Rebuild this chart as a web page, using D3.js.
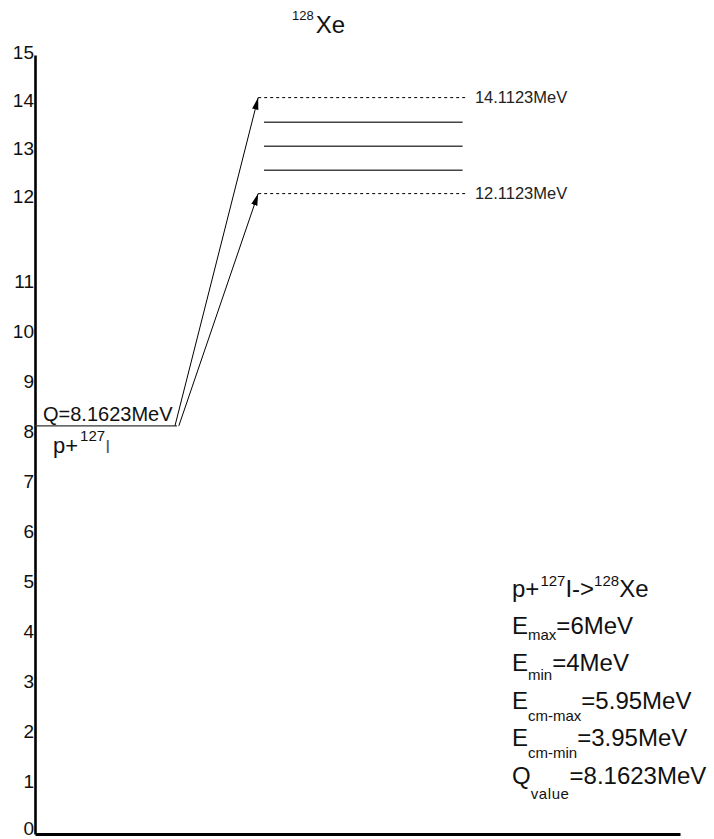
<!DOCTYPE html>
<html>
<head>
<meta charset="utf-8">
<script src="https://cdn.jsdelivr.net/npm/d3@7"></script>
<style>
  html, body { margin: 0; padding: 0; background: #fff; }
  svg { display: block; font-family: "Liberation Sans", Arial, sans-serif; }
</style>
</head>
<body>
<svg id="chart" width="714" height="839"></svg>
<script>
// Energy axis ticks (MeV)
const energyTicks = [0, 1, 2, 3, 4, 5, 6, 7, 8, 9, 10, 11, 12, 13, 14, 15];
// Entrance channel p + 127I
const qValue = 8.1623;
// Excitation window reached in 128Xe (labelled bounds)
const windowLevels = [14.1123, 12.1123];
const windowLabels = ["14.1123MeV", "12.1123MeV"];
// Intermediate states drawn inside the window
const stateLevels = [13.6, 13.1, 12.6];
// Reaction summary
const summaryLines = [
  { main: "E", sub: "max", rest: "=6MeV" },
  { main: "E", sub: "min", rest: "=4MeV" },
  { main: "E", sub: "cm-max", rest: "=5.95MeV" },
  { main: "E", sub: "cm-min", rest: "=3.95MeV" },
  { main: "Q", sub: "value", rest: "=8.1623MeV" }
];

const svg = d3.select("#chart");
const font = "'Liberation Sans', Arial, sans-serif";

// Energy scale with a break between 11 and 12 MeV
const y = d3.scaleLinear()
  .domain([0, 11, 12, 15])
  .range([834, 284, 199, 55]);

// Horizontal layout units of the level scheme
const x = d3.scaleLinear().domain([0, 100]).range([35, 680]);

// Y axis
const yAxis = d3.axisLeft(y)
  .tickValues(energyTicks)
  .tickFormat(d3.format("d"))
  .tickSize(0)
  .tickSizeOuter(0)
  .tickPadding(1);

const gy = svg.append("g")
  .attr("transform", `translate(${x(0)},0)`)
  .call(yAxis);
gy.select(".domain").attr("stroke", "#000").attr("stroke-width", 2.6);
gy.selectAll(".tick text")
  .attr("font-family", font)
  .attr("font-size", 19)
  .attr("dy", d => d === 0 ? "0.03em" : "0.2em")
  .attr("fill", "#111");

// X baseline
const xAxis = d3.axisBottom(x).tickValues([]).tickSizeOuter(0);
const gx = svg.append("g")
  .attr("transform", `translate(0,${y(0)})`)
  .call(xAxis);
gx.select(".domain").attr("stroke", "#000").attr("stroke-width", 3);

// Title
const title = svg.append("text")
  .attr("x", 292).attr("y", 33)
  .attr("font-family", font).attr("fill", "#111");
title.append("tspan").attr("font-size", 13).attr("dy", -13).text("128");
title.append("tspan").attr("font-size", 24).attr("dy", 13).attr("dx", 2).text("Xe");

// Arrowhead marker
const defs = svg.append("defs");
defs.append("marker")
  .attr("id", "arrowhead")
  .attr("markerUnits", "userSpaceOnUse")
  .attr("viewBox", "0 0 12 8")
  .attr("refX", 12).attr("refY", 4)
  .attr("markerWidth", 12).attr("markerHeight", 8)
  .attr("orient", "auto")
  .append("path")
  .attr("d", "M0,0.8 L12,4 L0,7.2 Z")
  .attr("fill", "#000");

// Entrance channel level
svg.append("line")
  .attr("x1", x(0)).attr("x2", x(22))
  .attr("y1", y(qValue)).attr("y2", y(qValue))
  .attr("stroke", "#333").attr("stroke-width", 1.4);

svg.append("text")
  .attr("x", 43).attr("y", y(qValue) - 5)
  .attr("font-family", font).attr("font-size", 20).attr("fill", "#111")
  .text(`Q=${qValue}MeV`);

const ent = svg.append("text")
  .attr("x", 53).attr("y", y(qValue) + 27)
  .attr("font-family", font).attr("fill", "#111");
ent.append("tspan").attr("font-size", 22).text("p+");
ent.append("tspan").attr("font-size", 15).attr("dy", -12).attr("dx", 2).text("127");
ent.append("tspan").attr("font-size", 18).attr("dy", 12).attr("fill", "#4a5a6e").text("I");

// Transitions from entrance channel to the window bounds
const arrowStarts = [21.7, 22.3];
svg.selectAll("line.transition")
  .data(windowLevels)
  .join("line")
  .attr("class", "transition")
  .attr("x1", (d, i) => x(arrowStarts[i]))
  .attr("y1", y(qValue))
  .attr("x2", x(34.6))
  .attr("y2", d => y(d))
  .attr("stroke", "#000").attr("stroke-width", 1)
  .attr("marker-end", "url(#arrowhead)");

// Window bounds (dashed)
svg.selectAll("line.bound")
  .data(windowLevels)
  .join("line")
  .attr("class", "bound")
  .attr("x1", x(34.6)).attr("x2", x(66.7))
  .attr("y1", d => y(d)).attr("y2", d => y(d))
  .attr("stroke", "#000").attr("stroke-width", 1)
  .attr("stroke-dasharray", "3,3");

svg.selectAll("text.bound-label")
  .data(windowLabels)
  .join("text")
  .attr("class", "bound-label")
  .attr("x", x(68.2))
  .attr("y", (d, i) => y(windowLevels[i]) + 5)
  .attr("font-family", font).attr("font-size", 16.5).attr("fill", "#222")
  .text(d => d);

// Intermediate states (solid)
svg.selectAll("line.state")
  .data(stateLevels)
  .join("line")
  .attr("class", "state")
  .attr("x1", x(35.5)).attr("x2", x(66.3))
  .attr("y1", d => y(d)).attr("y2", d => y(d))
  .attr("stroke", "#444").attr("stroke-width", 1.4);

// Reaction summary
const box = svg.append("g").attr("font-family", font).attr("fill", "#111");
const head = box.append("text").attr("x", 512).attr("y", 597);
head.append("tspan").attr("font-size", 24).text("p+");
head.append("tspan").attr("font-size", 15).attr("dy", -11).attr("dx", 1).text("127");
head.append("tspan").attr("font-size", 24).attr("dy", 11).text("I->");
head.append("tspan").attr("font-size", 15).attr("dy", -11).text("128");
head.append("tspan").attr("font-size", 24).attr("dy", 11).text("Xe");

const subDrop = [6, 9, 12, 12, 15];
const lineStep = 37.4;
summaryLines.forEach((s, i) => {
  const t = box.append("text").attr("x", 512).attr("y", 634 + i * lineStep);
  t.append("tspan").attr("font-size", 24).text(s.main);
  t.append("tspan").attr("font-size", 15).attr("dy", subDrop[i])
    .attr("letter-spacing", s.sub === "value" ? 0.6 : 0).text(s.sub);
  t.append("tspan").attr("font-size", 24).attr("dy", -subDrop[i]).text(s.rest);
});
</script>
</body>
</html>
